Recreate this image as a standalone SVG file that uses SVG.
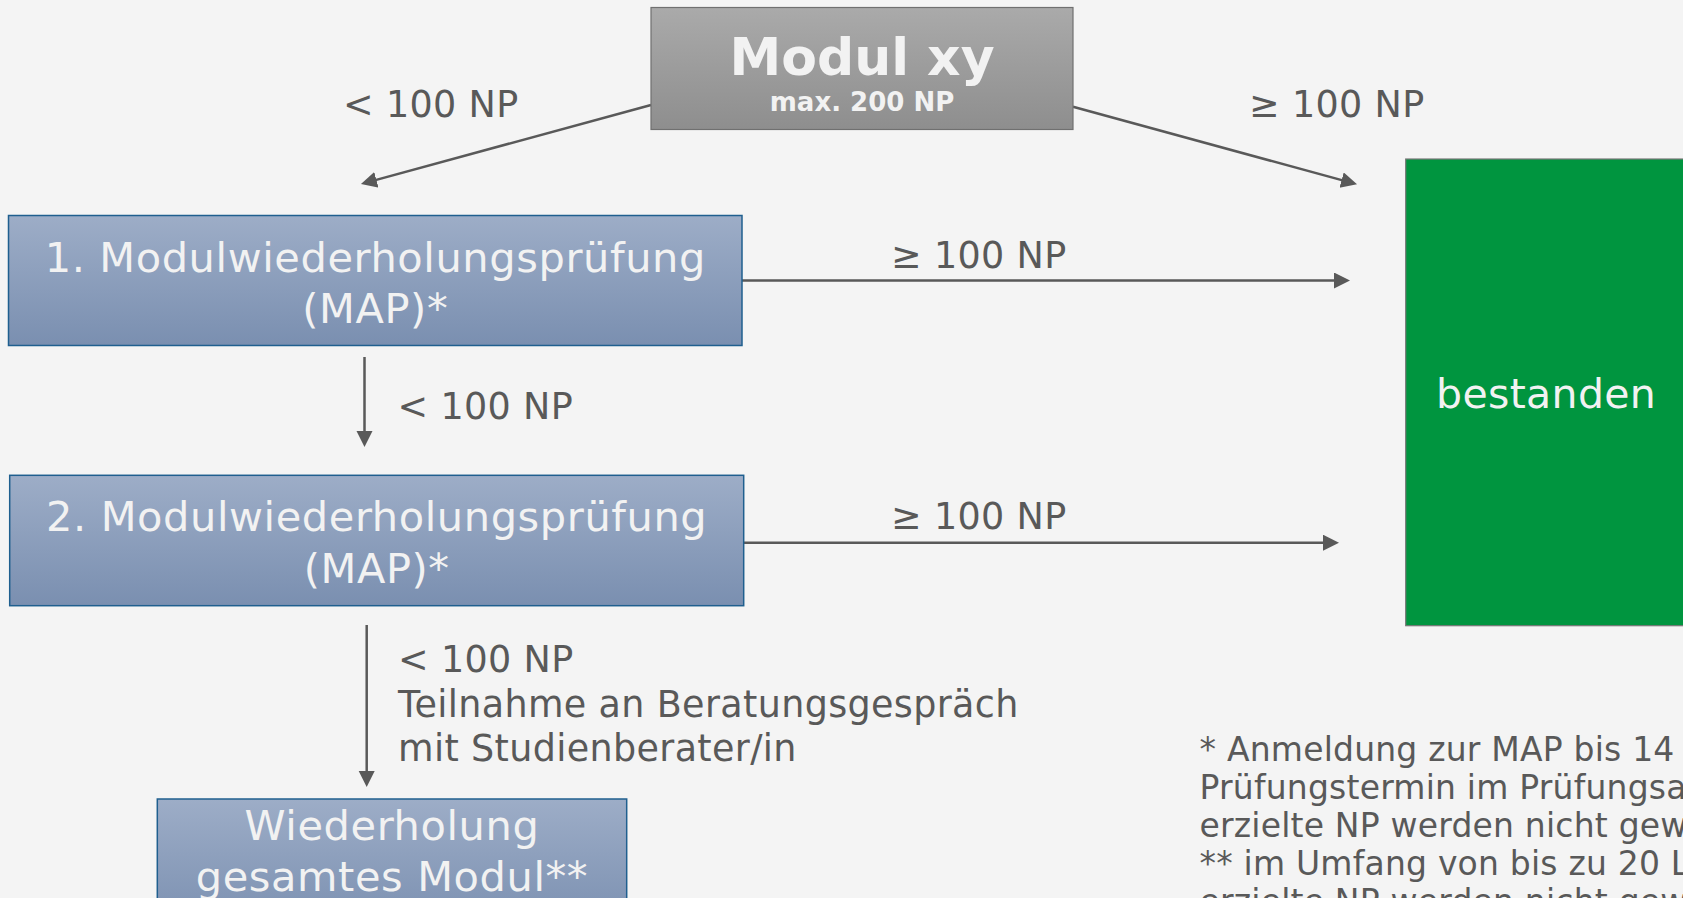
<svg xmlns="http://www.w3.org/2000/svg" width="1683" height="898" viewBox="0 0 1683 898">
  <defs>
    <linearGradient id="gGray" x1="0" y1="0" x2="0" y2="1">
      <stop offset="0" stop-color="#aaaaaa"/>
      <stop offset="1" stop-color="#8e8e8e"/>
    </linearGradient>
    <linearGradient id="gBlue" x1="0" y1="0" x2="0" y2="1">
      <stop offset="0" stop-color="#9dadc7"/>
      <stop offset="1" stop-color="#7a8fb0"/>
    </linearGradient>
    <marker id="arr" markerUnits="userSpaceOnUse" markerWidth="17" markerHeight="17" refX="3" refY="8" orient="auto">
      <path d="M0,0 L16,8 L0,16 z" fill="#595959"/>
    </marker>
    <style>
      .lbl { font-family: "DejaVu Sans", Verdana, sans-serif; font-size: 36.5px; fill: #595959; letter-spacing: 0.35px; }
      .boxtxt { font-family: "DejaVu Sans", Verdana, sans-serif; font-size: 41.5px; fill: #f2f2f2; text-anchor: middle; letter-spacing: 0.6px; }
      .blue { fill: url(#gBlue); stroke: #1f5f8f; stroke-width: 1.5; }
      .conn { stroke: #595959; stroke-width: 2.5; fill: none; marker-end: url(#arr); }
      .note { font-family: "DejaVu Sans", Verdana, sans-serif; font-size: 33px; fill: #595959; letter-spacing: 0.2px; }
    </style>
  </defs>
  <rect x="0" y="0" width="1683" height="898" fill="#f4f4f4"/>

  <g id="connectors">
    <line class="conn" x1="651" y1="105" x2="373.5" y2="180.6"/>
    <line class="conn" x1="1073" y1="106.7" x2="1344.5" y2="180.9"/>
    <line class="conn" x1="742" y1="280.5" x2="1337" y2="280.5"/>
    <line class="conn" x1="744" y1="542.7" x2="1326" y2="542.7"/>
    <line class="conn" x1="364.5" y1="357" x2="364.5" y2="434"/>
    <line class="conn" x1="366.7" y1="625" x2="366.7" y2="774"/>
  </g>

  <g id="labels">
    <text class="lbl" x="343" y="117">&lt; 100 NP</text>
    <text class="lbl" x="1249" y="117">≥ 100 NP</text>
    <text class="lbl" x="891" y="268">≥ 100 NP</text>
    <text class="lbl" x="891" y="529">≥ 100 NP</text>
    <text class="lbl" x="397.5" y="419">&lt; 100 NP</text>
    <text class="lbl" x="398" y="671.5">&lt; 100 NP</text>
    <text class="lbl" x="398" y="716.5">Teilnahme an Beratungsgespräch</text>
    <text class="lbl" x="398" y="761">mit Studienberater/in</text>
  </g>

  <g id="modul">
    <rect x="651" y="7.5" width="422" height="122" fill="url(#gGray)" stroke="#707070" stroke-width="1.2"/>
    <text x="862" y="75" font-family="DejaVu Sans, Verdana, sans-serif" font-weight="bold" font-size="52" fill="#f2f2f2" text-anchor="middle">Modul xy</text>
    <text x="862" y="111" font-family="DejaVu Sans, Verdana, sans-serif" font-weight="bold" font-size="26" fill="#f2f2f2" text-anchor="middle">max. 200 NP</text>
  </g>

  <g id="map1">
    <rect class="blue" x="8.5" y="215.5" width="733.5" height="130"/>
    <text class="boxtxt" x="375.3" y="271.5">1. Modulwiederholungsprüfung</text>
    <text class="boxtxt" x="375.3" y="323">(MAP)*</text>
  </g>

  <g id="map2">
    <rect class="blue" x="9.7" y="475.3" width="734" height="130.4"/>
    <text class="boxtxt" x="376.7" y="531">2. Modulwiederholungsprüfung</text>
    <text class="boxtxt" x="376.7" y="582.7">(MAP)*</text>
  </g>

  <g id="wiederholung">
    <rect class="blue" x="157.3" y="799" width="469.4" height="130"/>
    <text class="boxtxt" x="392" y="840">Wiederholung</text>
    <text class="boxtxt" x="392" y="891">gesamtes Modul**</text>
  </g>

  <g id="bestanden">
    <rect x="1405.7" y="159" width="300" height="466.7" fill="#00953f" stroke="#777777" stroke-width="1.2"/>
    <text x="1436" y="408" font-family="DejaVu Sans, Verdana, sans-serif" font-size="41" fill="#f2f2f2" letter-spacing="0.35">bestanden</text>
  </g>

  <g id="footnote">
    <text class="note" x="1199.5" y="761">* Anmeldung zur MAP bis 14 T</text>
    <text class="note" x="1199.5" y="798.5">Prüfungstermin im Prüfungsan</text>
    <text class="note" x="1199.5" y="836.5">erzielte NP werden nicht gewe</text>
    <text class="note" x="1199.5" y="875">** im Umfang von bis zu 20 L</text>
    <text class="note" x="1199.5" y="913">erzielte NP werden nicht gewe</text>
  </g>
</svg>
